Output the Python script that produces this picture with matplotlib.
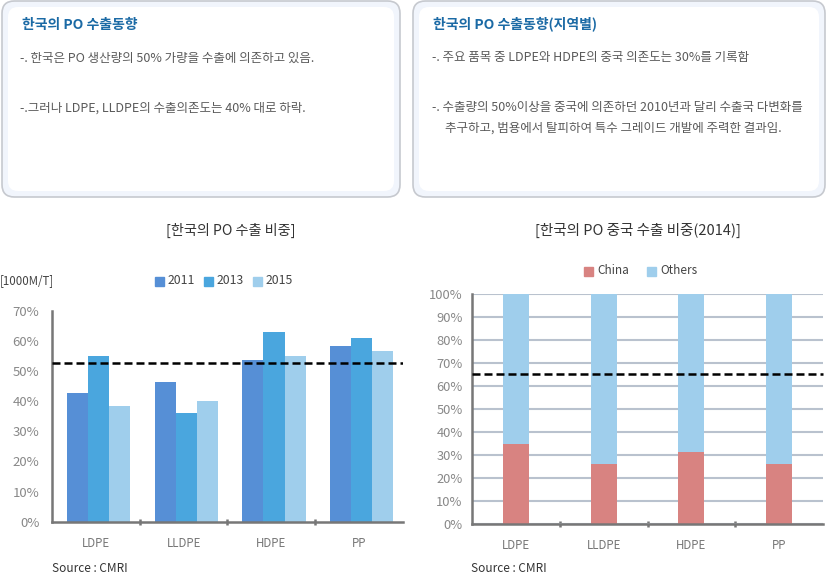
import numpy as np
import matplotlib
matplotlib.use('Agg')
import matplotlib.pyplot as plt
from matplotlib.patches import FancyBboxPatch, Rectangle

plt.rcParams['font.family'] = ['Noto Sans CJK KR', 'DejaVu Sans']

# data
cats = ['LDPE', 'LLDPE', 'HDPE', 'PP']
years = ['2011', '2013', '2015']
share_2011 = [42.7, 46.4, 53.7, 58.3]
share_2013 = [55.0, 36.1, 63.0, 61.0]
share_2015 = [38.4, 40.0, 55.0, 56.6]
avg_share = 52.8
china = [34.8, 26.1, 31.3, 26.1]
others = [100 - c for c in china]
china_avg = 65.3

W, H = 828, 576
fig = plt.figure(figsize=(W / 100, H / 100), dpi=100)

def fx(px):
    return px / W

def fy(py):
    return 1 - py / H

# ---- text boxes at top ----
for x0, x1 in [(2, 400), (413, 825)]:
    box = FancyBboxPatch((fx(x0), fy(197)), fx(x1 - x0), (196) / H,
                         boxstyle='round,pad=0,rounding_size=0.015',
                         transform=fig.transFigure, facecolor='#f1f5fc',
                         edgecolor='#c6c9cf', lw=1.2, mutation_aspect=W / H)
    fig.patches.append(box)
    inner = FancyBboxPatch((fx(x0 + 6), fy(191)), fx(x1 - x0 - 12), (184) / H,
                           boxstyle='round,pad=0,rounding_size=0.012',
                           transform=fig.transFigure, facecolor='white',
                           edgecolor='none', mutation_aspect=W / H)
    fig.patches.append(inner)

title_c = '#1b6aa5'
body_c = '#5a5a5a'
fig.text(fx(22), fy(25), '한국의 PO 수출동향', color=title_c, fontsize=10,
         fontweight='bold', va='center')
fig.text(fx(20), fy(58), '-. 한국은 PO 생산량의 50% 가량을 수출에 의존하고 있음.',
         color=body_c, fontsize=9, va='center')
fig.text(fx(20), fy(108), '-.그러나 LDPE, LLDPE의 수출의존도는 40% 대로 하락.',
         color=body_c, fontsize=9, va='center')

fig.text(fx(433), fy(24), '한국의 PO 수출동향(지역별)', color=title_c, fontsize=10,
         fontweight='bold', va='center')
fig.text(fx(432), fy(57), '-. 주요 품목 중 LDPE와 HDPE의 중국 의존도는 30%를 기록함',
         color=body_c, fontsize=9, va='center')
fig.text(fx(432), fy(107), '-. 수출량의 50%이상을 중국에 의존하던 2010년과 달리 수출국 다변화를',
         color=body_c, fontsize=9, va='center')
fig.text(fx(445), fy(128), '추구하고, 범용에서 탈피하여 특수 그레이드 개발에 주력한 결과임.',
         color=body_c, fontsize=9, va='center')

# ---- left chart ----
ax1 = fig.add_axes([fx(52), fy(521.7), fx(351), 211 / H])
x = np.arange(len(cats))
bw = 0.24
cols = ['#568fd6', '#4aa6de', '#9fceec']
for i, (vals, c) in enumerate(zip([share_2011, share_2013, share_2015], cols)):
    ax1.bar(x + (i - 1) * bw + 0.03, vals, bw, color=c, label=years[i], zorder=2)
ax1.axhline(avg_share, color='black', lw=1.8, dashes=(3.2, 1.6), zorder=3)
ax1.set_xlim(-0.5, 3.5)
ax1.set_ylim(0, 70)
ax1.set_yticks(np.arange(0, 71, 10))
ax1.set_yticklabels([f'{v}%' for v in range(0, 71, 10)])
ax1.set_xticks(x)
ax1.set_xticklabels(cats)
ax1.set_xticks([0.5, 1.5, 2.5], minor=True)
ax1.tick_params(axis='x', which='major', length=0, pad=11, colors='#777777', labelsize=8.3)
ax1.tick_params(axis='x', which='minor', length=5, width=1.8, color='#777777', direction='inout')
ax1.tick_params(axis='y', length=0, pad=9, colors='#888888', labelsize=9.5)
for s in ['top', 'right']:
    ax1.spines[s].set_visible(False)
for s in ['left', 'bottom']:
    ax1.spines[s].set_color('#777777')
    ax1.spines[s].set_linewidth(1.8)
ax1.set_facecolor('none')

fig.text(fx(230.5), fy(230), '[한국의 PO 수출 비중]', color='#333333', fontsize=10.2,
         ha='center', va='center')
fig.text(fx(0), fy(281), '[1000M/T]', color='#444444', fontsize=8.3, va='center')
leg_x = [155, 204, 253]
for lx, c, yr in zip(leg_x, cols, years):
    fig.patches.append(Rectangle((fx(lx), fy(285.5)), fx(9), 9 / H, color=c,
                                 transform=fig.transFigure))
    fig.text(fx(lx + 13), fy(281), yr, color='#444444', fontsize=8.8, va='center')
fig.text(fx(52), fy(569), 'Source : CMRI', color='#333333', fontsize=8.5, va='center')

# ---- right chart ----
ax2 = fig.add_axes([fx(472.3), fy(524), fx(350.4), 230 / H])
bw2 = 0.3
ax2.bar(x, china, bw2, color='#d88381', label='China', zorder=2)
ax2.bar(x, others, bw2, bottom=china, color='#9fceec', label='Others', zorder=2)
ax2.axhline(china_avg, color='black', lw=1.8, dashes=(3.2, 1.6), zorder=3, clip_on=False)
ax2.set_xlim(-0.5, 3.5)
ax2.set_ylim(0, 100)
ax2.set_yticks(np.arange(0, 101, 10))
ax2.set_yticklabels([f'{v}%' for v in range(0, 101, 10)])
ax2.yaxis.grid(True, color='#b9c2ce', lw=1.5, zorder=0)
ax2.set_axisbelow(True)
ax2.set_xticks(x)
ax2.set_xticklabels(cats)
ax2.set_xticks([0.5, 1.5, 2.5], minor=True)
ax2.tick_params(axis='x', which='major', length=0, pad=11, colors='#777777', labelsize=8.3)
ax2.tick_params(axis='x', which='minor', length=5, width=1.8, color='#777777', direction='inout')
ax2.tick_params(axis='y', length=0, pad=7, colors='#888888', labelsize=9.3)
for s in ['top', 'right']:
    ax2.spines[s].set_visible(False)
for s in ['left', 'bottom']:
    ax2.spines[s].set_color('#777777')
    ax2.spines[s].set_linewidth(1.8)
ax2.set_facecolor('none')

fig.text(fx(638), fy(230), '[한국의 PO 중국 수출 비중(2014)]', color='#333333', fontsize=10.5,
         ha='center', va='center')
for lx, c, lab in [(584, '#d88381', 'China'), (647, '#9fceec', 'Others')]:
    fig.patches.append(Rectangle((fx(lx), fy(275.5)), fx(9), 9 / H, color=c,
                                 transform=fig.transFigure))
    fig.text(fx(lx + 13), fy(271), lab, color='#444444', fontsize=8.5, va='center')
fig.text(fx(471), fy(569), 'Source : CMRI', color='#333333', fontsize=8.5, va='center')

fig.savefig('out.png', dpi=100)
